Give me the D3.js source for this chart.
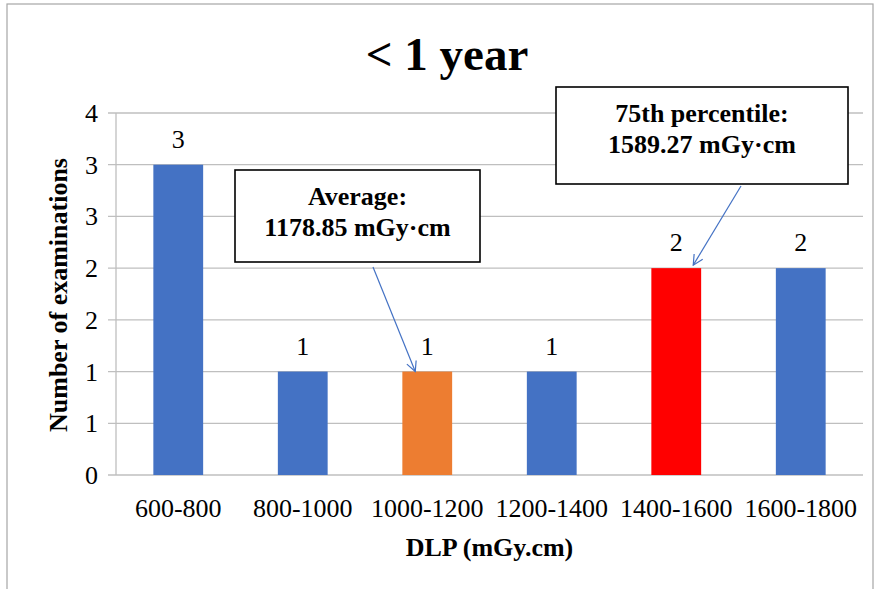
<!DOCTYPE html>
<html>
<head>
<meta charset="utf-8">
<script src="https://cdn.jsdelivr.net/npm/d3@7"></script>
<style>
  body { margin: 0; background: #fff; }
  svg { display: block; }
  svg text { font-family: "Liberation Serif", "Times New Roman", "DejaVu Serif", serif; }
</style>
</head>
<body>
<div id="chart"></div>
<script>
var categories = ["600-800", "800-1000", "1000-1200", "1200-1400", "1400-1600", "1600-1800"];
var counts = [3, 1, 1, 1, 2, 2];
var barColors = ["#4472C4", "#4472C4", "#ED7D31", "#4472C4", "#FF0000", "#4472C4"];
var yTicks = [0, 0.5, 1, 1.5, 2, 2.5, 3, 3.5];
var notes = [
  { lines: ["Average:", "1178.85 mGy·cm"], cat: "1000-1200", value: 1 },
  { lines: ["75th percentile:", "1589.27 mGy·cm"], cat: "1400-1600", value: 2 }
];

var W = 878, H = 589;
var plotL = 116, plotR = 863, plotT = 113, plotB = 475;

var svg = d3.select("#chart").append("svg")
  .attr("width", W).attr("height", H);

svg.append("rect")
  .attr("x", 7).attr("y", 4).attr("width", 866).attr("height", 620)
  .attr("fill", "#fff").attr("stroke", "#a6a6a6").attr("stroke-width", 1.2);

var x = d3.scaleBand().domain(categories).range([plotL, plotR])
  .paddingInner(0.6).paddingOuter(0.3);
var y = d3.scaleLinear().domain([0, 3.5]).range([plotB, plotT]);

// gridlines with outside ticks
var grid = svg.append("g");
yTicks.forEach(function (t) {
  grid.append("line")
    .attr("x1", plotL - 8).attr("x2", plotR)
    .attr("y1", y(t)).attr("y2", y(t))
    .attr("stroke", "#bfbfbf").attr("stroke-width", 1.3);
  grid.append("text")
    .attr("x", plotL - 18).attr("y", y(t) + 9)
    .attr("text-anchor", "end")
    .attr("font-size", "26px")
    .attr("fill", "#000")
    .text(Math.round(t + 0.001));
});
svg.append("line")
  .attr("x1", plotL).attr("x2", plotL).attr("y1", plotT).attr("y2", plotB)
  .attr("stroke", "#bfbfbf").attr("stroke-width", 1.3);

// bars
svg.append("g").selectAll("rect").data(counts).join("rect")
  .attr("x", function (d, i) { return x(categories[i]); })
  .attr("y", function (d) { return y(d); })
  .attr("width", x.bandwidth())
  .attr("height", function (d) { return y(0) - y(d); })
  .attr("fill", function (d, i) { return barColors[i]; });

// value labels
svg.append("g").selectAll("text").data(counts).join("text")
  .attr("x", function (d, i) { return x(categories[i]) + x.bandwidth() / 2; })
  .attr("y", function (d) { return y(d) - 17; })
  .attr("text-anchor", "middle")
  .attr("font-size", "26px")
  .text(function (d) { return d; });

// category labels
svg.append("g").selectAll("text").data(categories).join("text")
  .attr("x", function (d) { return x(d) + x.bandwidth() / 2; })
  .attr("y", 517)
  .attr("text-anchor", "middle")
  .attr("font-size", "26px")
  .text(function (d) { return d; });

// title
svg.append("text")
  .attr("x", 447).attr("y", 70)
  .attr("text-anchor", "middle")
  .attr("font-size", "47px").attr("font-weight", "bold")
  .text("< 1 year");

// axis titles
svg.append("text")
  .attr("x", (plotL + plotR) / 2).attr("y", 556)
  .attr("text-anchor", "middle")
  .attr("font-size", "26px").attr("font-weight", "bold")
  .text("DLP (mGy.cm)");
svg.append("text")
  .attr("transform", "translate(67," + ((plotT + plotB) / 2 + 1) + ") rotate(-90)")
  .attr("text-anchor", "middle")
  .attr("font-size", "26px").attr("font-weight", "bold")
  .text("Number of examinations");

// annotations
var defs = svg.append("defs");
defs.append("marker")
  .attr("id", "arr").attr("viewBox", "0 0 12 12")
  .attr("refX", 11).attr("refY", 6)
  .attr("markerWidth", 12).attr("markerHeight", 12)
  .attr("markerUnits", "userSpaceOnUse")
  .attr("orient", "auto")
  .append("path").attr("d", "M1,1 L11,6 L1,11")
  .attr("fill", "none").attr("stroke", "#4472C4").attr("stroke-width", 1.2);

var boxes = [
  { x: 235, y: 170, w: 245, h: 92, from: [373, 267], dx: -12, dy: 0 },
  { x: 556, y: 87, w: 292, h: 97, from: [741, 186], dx: 17, dy: -3 }
];
notes.forEach(function (n, k) {
  var b = boxes[k];
  var g = svg.append("g");
  g.append("rect")
    .attr("x", b.x).attr("y", b.y).attr("width", b.w).attr("height", b.h)
    .attr("fill", "#fff").attr("stroke", "#000").attr("stroke-width", 1.6);
  n.lines.forEach(function (ln, j) {
    g.append("text")
      .attr("x", b.x + b.w / 2).attr("y", b.y + 35 + j * 31)
      .attr("text-anchor", "middle")
      .attr("font-size", "26px").attr("font-weight", "bold")
      .text(ln);
  });
  g.append("line")
    .attr("x1", b.from[0]).attr("y1", b.from[1])
    .attr("x2", x(n.cat) + x.bandwidth() / 2 + b.dx).attr("y2", y(n.value) + b.dy)
    .attr("stroke", "#4472C4").attr("stroke-width", 1.2)
    .attr("marker-end", "url(#arr)");
});
</script>
</body>
</html>
